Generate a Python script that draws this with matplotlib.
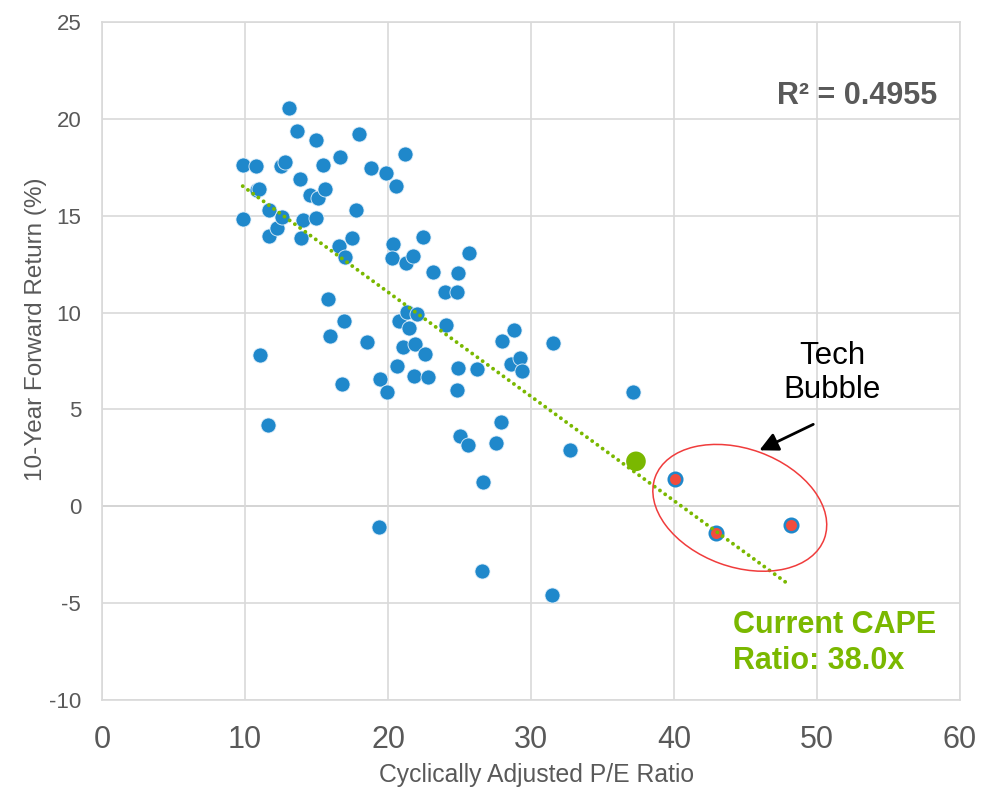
import numpy as np
import matplotlib
matplotlib.use("Agg")
import matplotlib.pyplot as plt
from matplotlib.patches import Ellipse
from matplotlib.transforms import ScaledTranslation
from matplotlib import font_manager

# ---------------- data ----------------
cape_x = [9.84, 10.77, 9.84, 10.82, 11.00, 11.05, 11.61, 11.70, 11.66, 12.22,
          12.57, 12.52, 12.80, 13.10, 13.62, 13.85, 13.90, 14.08, 14.55, 14.94,
          14.94, 15.13, 15.43, 15.59, 15.80, 15.94, 16.64, 16.59, 16.76, 16.99,
          16.92, 17.50, 17.76, 17.99, 18.51, 18.83, 19.37, 19.44, 19.86, 19.93,
          20.37, 20.30, 20.54, 20.61, 20.77, 21.19, 21.05, 21.26, 21.31, 21.77,
          22.01, 21.47, 21.89, 22.59, 22.43, 21.82, 22.80, 23.17, 23.99, 24.03,
          24.80, 24.87, 24.87, 24.80, 25.03, 25.64, 25.59, 26.20, 26.57, 26.64,
          27.55, 27.90, 27.97, 28.60, 28.81, 29.23, 29.37, 31.54, 31.47, 32.71,
          37.11]
ret_y = [17.60, 17.57, 14.82, 16.35, 16.38, 7.80, 4.18, 15.32, 13.94, 14.37,
         14.94, 17.55, 17.78, 20.56, 19.38, 16.92, 13.87, 14.77, 16.09, 18.90,
         14.88, 15.89, 17.60, 16.37, 10.69, 8.78, 18.03, 13.44, 6.33, 12.87,
         9.55, 13.85, 15.28, 19.20, 8.48, 17.47, -1.07, 6.56, 17.18, 5.89,
         13.56, 12.82, 16.54, 7.23, 9.57, 18.21, 8.21, 12.58, 10.03, 12.92,
         9.95, 9.21, 8.36, 7.85, 13.90, 6.73, 6.66, 12.07, 11.06, 9.34,
         11.06, 12.04, 7.12, 5.99, 3.61, 13.10, 3.16, 7.07, -3.36, 1.24,
         3.27, 4.37, 8.52, 7.33, 9.09, 7.64, 6.97, 8.42, -4.59, 2.93,
         5.92]
bubble_x = [40.07, 42.96, 48.16]
bubble_y = [1.39, -1.36, -0.97]
current_x = [37.34]
current_y = [2.32]
r_squared = 0.4955
current_cape = 38.0

x_ticks = [0, 10, 20, 30, 40, 50, 60]
y_ticks = [-10, -5, 0, 5, 10, 15, 20, 25]

# ---------------- fonts ----------------
avail = {f.name for f in font_manager.fontManager.ttflist}
base = "Liberation Sans" if "Liberation Sans" in avail else "DejaVu Sans"
plt.rcParams['font.family'] = [base, 'DejaVu Sans']
plt.rcParams['axes.unicode_minus'] = False

GRAY = '#595959'
BLUE = '#1F88CB'
GREEN = '#7AB800'
RED = '#F24C3D'

fig = plt.figure(figsize=(9.97, 7.92), dpi=100)
ax = fig.add_axes([102/997, 1-700/792, 858/997, 678/792])

ax.set_xlim(0, 60)
ax.set_ylim(-10, 25)
ax.set_xticks(x_ticks)
ax.set_yticks(y_ticks)
ax.grid(True, color='#D9D9D9', lw=1.2, zorder=0)
ax.set_axisbelow(True)
for s in ax.spines.values():
    s.set_color('#D9D9D9')
    s.set_linewidth(1.2)
ax.axhline(0, color='#BFBFBF', lw=1.3, zorder=0.5)

ax.tick_params(axis='both', length=0, colors=GRAY)
ax.tick_params(axis='y', labelsize=16, pad=15)
ax.tick_params(axis='x', labelsize=22, pad=18)

# scatter
ax.scatter(cape_x, ret_y, s=118, color=BLUE, edgecolors='#E3F0FA', linewidths=0.6, zorder=3)
ax.scatter(bubble_x, bubble_y, s=95, color=RED, edgecolors=BLUE, linewidths=1.8, zorder=3)
ax.scatter(current_x, current_y, s=200, color=GREEN, edgecolors='none', zorder=3)

# trendline from regression of historical points
fx = np.array(cape_x + bubble_x)
fy = np.array(ret_y + bubble_y)
b, a = np.polyfit(fx, fy, 1)
tx = np.array([fx.min(), fx.max() - 0.3])
ax.plot(tx, a + b * tx, color=GREEN, lw=2.8, linestyle=(0, (0.01, 1.65)),
        dash_capstyle='round', zorder=4)

# ellipse around tech bubble (drawn in inches around a data-anchored centre)
trans = fig.dpi_scale_trans + ScaledTranslation(44.6, -0.08, ax.transData)
ax.add_patch(Ellipse((0, 0), width=1.80, height=1.18, angle=-20, transform=trans,
                     fill=False, edgecolor='#F03C3C', lw=1.1, zorder=5))

ax.annotate('', xy=(45.97, 2.89), xytext=(49.74, 4.23),
            arrowprops=dict(arrowstyle='-|>', color='black', lw=2, mutation_scale=28,
                            shrinkA=0, shrinkB=0), zorder=6)
ax.text(51.05, 6.89, 'Tech\nBubble', ha='center', va='center', fontsize=22.5,
        color='black', linespacing=1.2)

ax.text(44.13, -7.05, f'Current CAPE\nRatio: {current_cape:.1f}x', ha='left', va='center',
        fontsize=22, fontweight='bold', color=GREEN, linespacing=1.25)

ax.text(58.39, 21.17, f'R² = {r_squared:.4f}', ha='right', va='center', fontsize=22,
        fontweight='bold', color=GRAY)

ax.set_xlabel('Cyclically Adjusted P/E Ratio', fontsize=17.8, color=GRAY)
ax.set_ylabel('10-Year Forward Return (%)', fontsize=17.5, color=GRAY)
ax.xaxis.set_label_coords(0.506, -0.093)
ax.yaxis.set_label_coords(-0.064, 0.547)

fig.savefig('out.png', dpi=100)
